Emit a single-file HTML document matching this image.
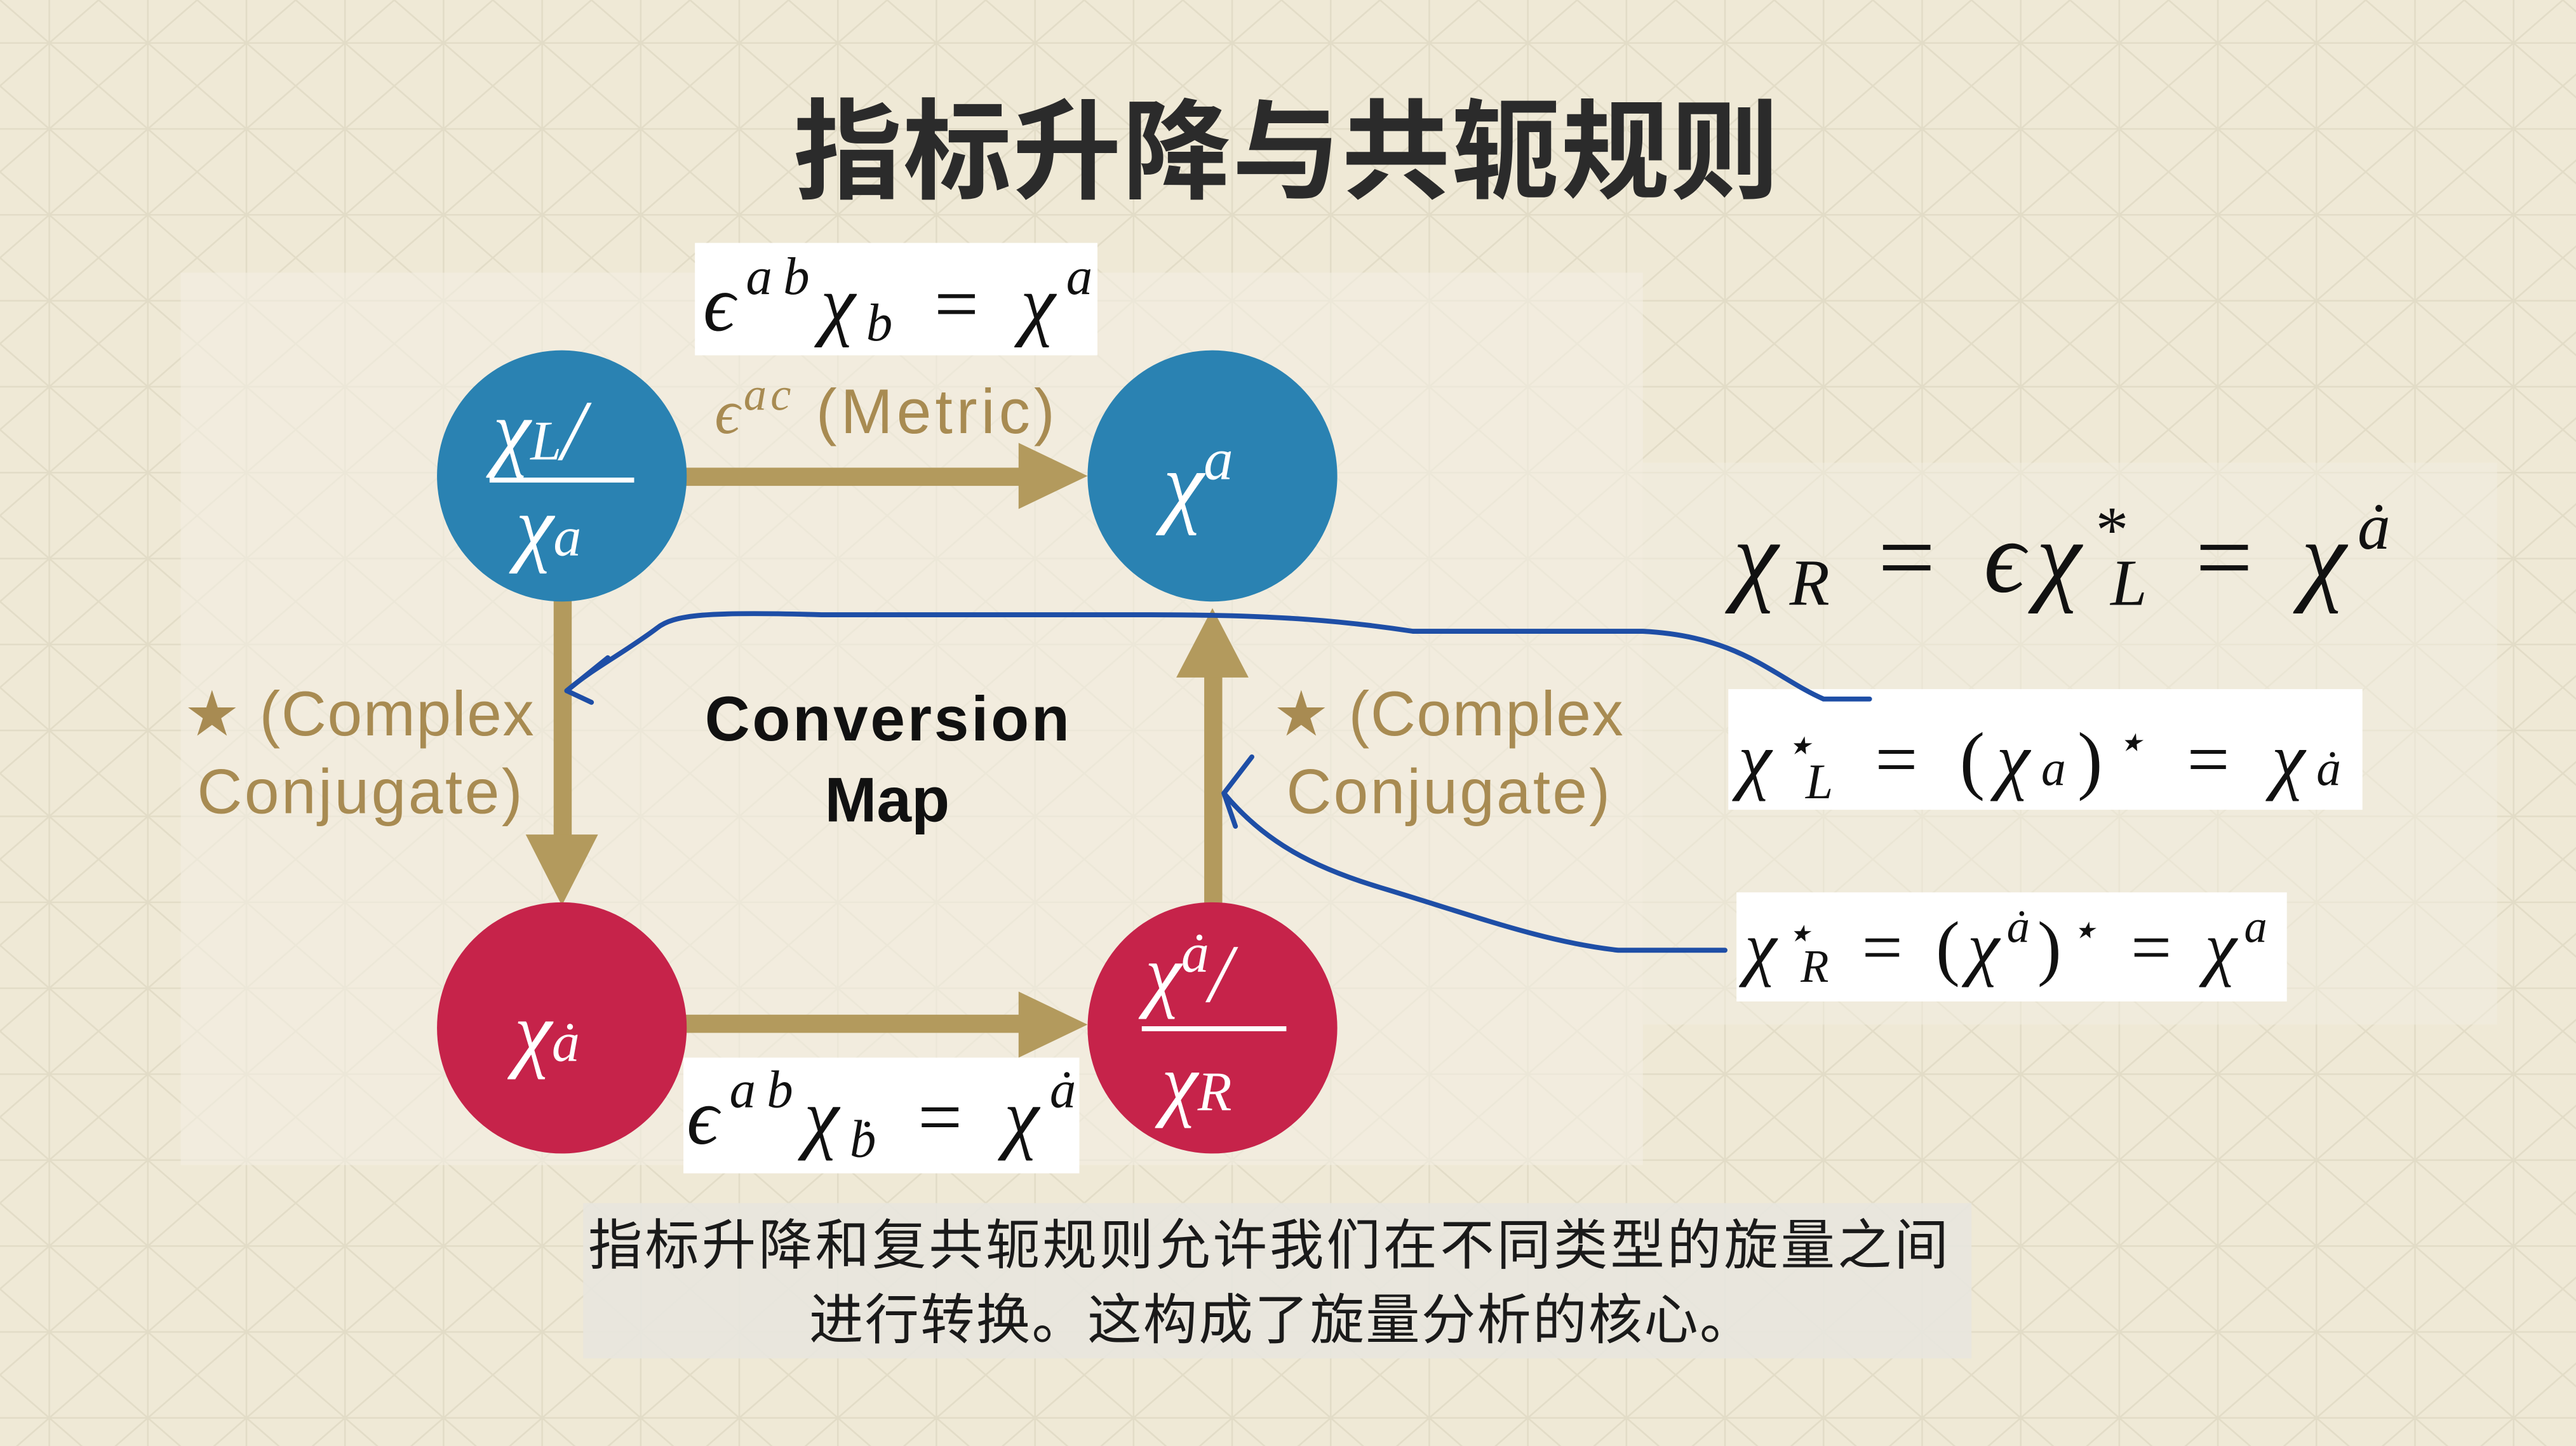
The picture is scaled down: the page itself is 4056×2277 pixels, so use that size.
<!DOCTYPE html>
<html><head><meta charset="utf-8">
<style>
html,body{margin:0;padding:0;background:#efe9d6;}
svg{display:block;}
.m{font-family:"Liberation Serif","DejaVu Serif",serif;font-style:italic;}
.s{font-family:"Liberation Sans","DejaVu Sans",sans-serif;}
.c{font-family:"Liberation Sans","Noto Sans CJK SC",sans-serif;}
</style></head><body>
<svg width="4056" height="2277" viewBox="0 0 1568 875" preserveAspectRatio="none" xmlns="http://www.w3.org/2000/svg">
<defs>
<pattern id="g" width="60" height="52" patternUnits="userSpaceOnUse">
<path d="M0 0 L60 52 M60 0 L0 52 M30 0 L30 52 M0 26 L60 26" stroke="#ddd6c0" stroke-width="1" fill="none"/>
</pattern>
</defs>
<rect width="1568" height="875" fill="#efe9d6"/>
<rect width="1568" height="875" fill="url(#g)" opacity="0.7"/>
<rect x="110" y="165" width="890" height="540" fill="#f3efe3" opacity="0.6"/>
<rect x="1000" y="280" width="520" height="340" fill="#f2eee2" opacity="0.5"/>
<text x="783" y="115" text-anchor="middle" class="c" font-size="66" font-weight="bold" fill="#2b2b2b" textLength="600">指标升降与共轭规则</text>

<g fill="#b39a5d" stroke="none">
<rect x="415" y="283" width="210" height="11"/>
<polygon points="620,268 662,288 620,308"/>
<rect x="415" y="614" width="210" height="11"/>
<polygon points="620,600 662,620 620,640"/>
<rect x="337" y="362" width="11" height="150"/>
<polygon points="320,505 342,548 364,505"/>
<rect x="733" y="405" width="11" height="145"/>
<polygon points="716,410 738,368 760,410"/>
</g>

<circle cx="342" cy="288" r="76" fill="#2a82b2"/>
<circle cx="738" cy="288" r="76" fill="#2a82b2"/>
<circle cx="342" cy="622" r="76" fill="#c6234a"/>
<circle cx="738" cy="622" r="76" fill="#c6234a"/>

<g fill="#fff" class="m">
<text x="300" y="278" font-size="52">χ<tspan font-size="34">L</tspan>/</text>
<rect x="298" y="289" width="88" height="3"/>
<text x="314" y="336" font-size="52">χ<tspan font-size="34">a</tspan></text>
<text x="708" y="312" font-size="56">χ<tspan font-size="36" dy="-22">a</tspan></text>
<text x="313" y="642" font-size="52">χ<tspan font-size="34">ȧ</tspan></text>
<text x="697" y="606" font-size="50">χ<tspan font-size="34" dy="-18">ȧ</tspan><tspan dy="18">/</tspan></text>
<rect x="695" y="621" width="88" height="3"/>
<text x="707" y="672" font-size="50">χ<tspan font-size="34">R</tspan></text>
</g>

<g fill="#a88b52" class="s" font-size="38">
<text x="435" y="262" textLength="207"><tspan class="m">ϵ<tspan font-size="28" dy="-14">ac</tspan></tspan><tspan dy="14"> (Metric)</tspan></text>
<text x="112" y="445" textLength="213">★ (Complex</text>
<text x="120" y="492" textLength="198">Conjugate)</text>
<text x="775" y="445" textLength="213">★ (Complex</text>
<text x="783" y="492" textLength="197">Conjugate)</text>
</g>
<g class="s" font-size="38" font-weight="bold" fill="#111" text-anchor="middle">
<text x="540" y="448" textLength="222">Conversion</text>
<text x="540" y="497">Map</text>
</g>

<g fill="#fff">
<rect x="423" y="147" width="245" height="68"/>
<rect x="416" y="640" width="241" height="70"/>
<rect x="1052" y="417" width="386" height="73"/>
<rect x="1057" y="540" width="335" height="66"/>
</g>
<g class="m" fill="#111">
<text x="428" y="200" font-size="48" textLength="237">ϵ<tspan font-size="32" dy="-22">ab</tspan><tspan dy="22">χ</tspan><tspan font-size="32" dy="6">b</tspan><tspan dy="-6" font-style="normal"> = </tspan>χ<tspan font-size="32" dy="-22">a</tspan></text>
<text x="418" y="692" font-size="48" textLength="237">ϵ<tspan font-size="32" dy="-22">ab</tspan><tspan dy="22">χ</tspan><tspan font-size="32" dy="8">ḃ</tspan><tspan dy="-8" font-style="normal"> = </tspan>χ<tspan font-size="32" dy="-22">ȧ</tspan></text>
<text x="1058" y="475" font-size="46" textLength="367">χ<tspan font-size="30" dy="-14">⋆</tspan><tspan font-size="30" dx="-12" dy="22">L</tspan><tspan dy="-8" font-style="normal"> = (</tspan>χ<tspan font-size="30">a</tspan><tspan font-style="normal">)</tspan><tspan font-size="30" dy="-16">⋆</tspan><tspan dy="16" font-style="normal"> = </tspan>χ<tspan font-size="30">ȧ</tspan></text>
<text x="1062" y="588" font-size="44" textLength="318">χ<tspan font-size="28" dy="-14">⋆</tspan><tspan font-size="28" dx="-12" dy="20">R</tspan><tspan dy="-6" font-style="normal"> = (</tspan>χ<tspan font-size="28" dy="-18">ȧ</tspan><tspan dy="18" font-style="normal">)</tspan><tspan font-size="28" dy="-16">⋆</tspan><tspan dy="16" font-style="normal"> = </tspan>χ<tspan font-size="28" dy="-18">a</tspan></text>
<text x="1055" y="358" font-size="62" textLength="400">χ<tspan font-size="40" dy="8">R</tspan><tspan dy="-8" font-style="normal"> = </tspan>ϵχ<tspan font-size="40" dy="-24">*</tspan><tspan font-size="40" dx="-16" dy="32">L</tspan><tspan dy="-8" font-style="normal"> = </tspan>χ<tspan font-size="40" dy="-26">ȧ</tspan></text>
</g>

<g stroke="#1e4ea6" stroke-width="3" fill="none" stroke-linecap="round">
<path d="M1138 423 L1110 423 C1080 410 1060 385 1000 382 L860 382 C820 376 780 372 700 372 L500 372 C430 370 410 372 400 380 C380 395 360 405 345 418"/>
<path d="M345 418 L370 398 M345 418 L360 425"/>
<path d="M1050 575 L985 575 C940 570 900 555 840 537 C800 525 770 510 745 480"/>
<path d="M745 480 L762 458 M745 480 L752 500"/>
</g>

<rect x="355" y="728" width="845" height="94" fill="#e8e6de" opacity="0.9"/>
<g class="c" font-size="33" fill="#1a1a1a" text-anchor="middle">
<text x="772" y="765" textLength="828">指标升降和复共轭规则允许我们在不同类型的旋量之间</text>
<text x="780" y="810" textLength="575">进行转换。这构成了旋量分析的核心。</text>
</g>
</svg>
</body></html>
